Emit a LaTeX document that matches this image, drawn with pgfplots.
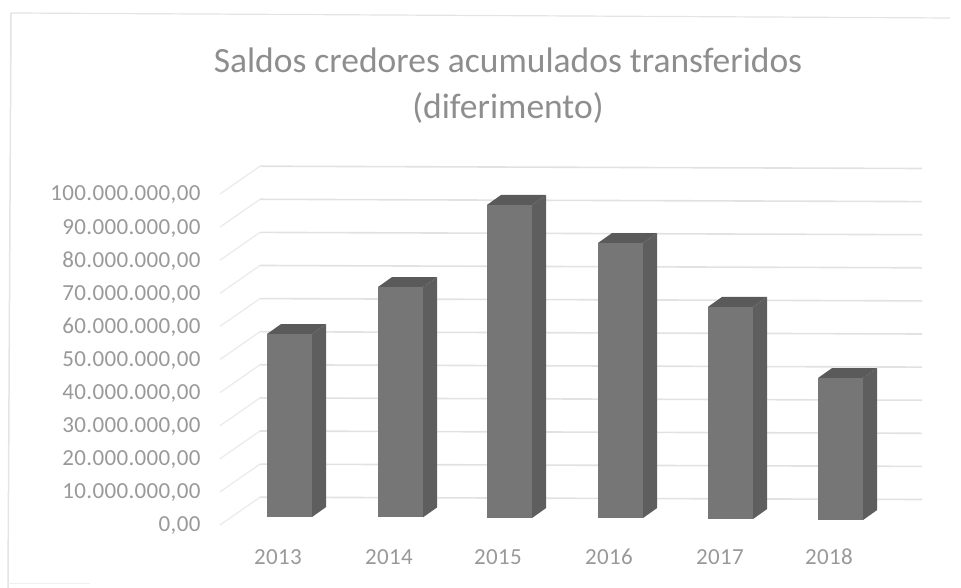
\documentclass[border=0pt]{standalone}
\usepackage{fontspec}
\setmainfont{Carlito}
\usepackage{pgfplots}
\pgfplotsset{compat=1.18}
\definecolor{txt}{HTML}{8E8E8E}
\definecolor{ticktxt}{HTML}{999999}
\definecolor{gridc}{HTML}{E2E2E2}
\definecolor{gridf}{HTML}{EBEBEB}
\definecolor{frontc}{HTML}{767676}
\definecolor{sidec}{HTML}{5E5E5E}
\definecolor{topc}{HTML}{5A5A5A}
\definecolor{framec}{HTML}{E4E4E4}
\newfontfamily\tickfont[LetterSpace=1.5]{Carlito}
\begin{document}
\begin{tikzpicture}[x=1pt,y=1pt]
\path[use as bounding box] (0,0) rectangle (961,588);
\draw[framec,line width=1.5pt] (11,575) -- (8,0);
\draw[framec,line width=1.2pt] (11,575) -- (950,570);
\draw[framec!60,line width=1pt] (8,4) -- (90,4);
\node[text=txt,font=\fontsize{35.5}{46}\selectfont,align=center] at (508,502) {Saldos credores acumulados transferidos\\(diferimento)};
\begin{axis}[
  at={(220pt,63pt)},anchor=origin,
  scale only axis,width=662pt,height=331pt,
  xmin=220,xmax=882,ymin=0,ymax=100,
  clip=false,
  axis line style={draw=none},
  major tick length=0pt,
  xtick={278,389,498,609,720,829},
  xticklabels={2013,2014,2015,2016,2017,2018},
  ytick={0,10,...,100},
  yticklabels={{0,00},{10.000.000,00},{20.000.000,00},{30.000.000,00},{40.000.000,00},{50.000.000,00},{60.000.000,00},{70.000.000,00},{80.000.000,00},{90.000.000,00},{100.000.000,00}},
  tick label style={text=ticktxt,font=\tickfont\fontsize{23}{23}\selectfont},
  /pgf/number format/assume math mode=true,
  yticklabel style={xshift=-16pt,yshift=-1pt},
  xticklabel style={yshift=-21pt,text height=15pt,text depth=0pt},
]
% grid: front edge, back wall
\addplot[gridf,line width=1.3pt] coordinates {(220,0) (260,8.4)};
\addplot[gridf,line width=1.3pt] coordinates {(220,10) (260,18.4)};
\addplot[gridf,line width=1.3pt] coordinates {(220,20) (260,28.4)};
\addplot[gridf,line width=1.3pt] coordinates {(220,30) (260,38.4)};
\addplot[gridf,line width=1.3pt] coordinates {(220,40) (260,48.4)};
\addplot[gridf,line width=1.3pt] coordinates {(220,50) (260,58.4)};
\addplot[gridf,line width=1.3pt] coordinates {(220,60) (260,68.4)};
\addplot[gridf,line width=1.3pt] coordinates {(220,70) (260,78.4)};
\addplot[gridf,line width=1.3pt] coordinates {(220,80) (260,88.4)};
\addplot[gridf,line width=1.3pt] coordinates {(220,90) (260,98.4)};
\addplot[gridf,line width=1.3pt] coordinates {(220,100) (260,108.4)};
\addplot[gridc,line width=1.6pt] coordinates {(260,8.4) (922,7.7)};
\addplot[gridc,line width=1.6pt] coordinates {(260,18.4) (922,17.7)};
\addplot[gridc,line width=1.6pt] coordinates {(260,28.4) (922,27.7)};
\addplot[gridc,line width=1.6pt] coordinates {(260,38.4) (922,37.7)};
\addplot[gridc,line width=1.6pt] coordinates {(260,48.4) (922,47.7)};
\addplot[gridc,line width=1.6pt] coordinates {(260,58.4) (922,57.7)};
\addplot[gridc,line width=1.6pt] coordinates {(260,68.4) (922,67.7)};
\addplot[gridc,line width=1.6pt] coordinates {(260,78.4) (922,77.7)};
\addplot[gridc,line width=1.6pt] coordinates {(260,88.4) (922,87.7)};
\addplot[gridc,line width=1.6pt] coordinates {(260,98.4) (922,97.7)};
\addplot[gridc,line width=1.6pt] coordinates {(260,108.4) (922,107.7)};
% side faces
\addplot[fill=sidec,draw=none] coordinates {(312,2.4) (326,5.4) (326,60.7) (312,57.7)} --cycle;
\addplot[fill=sidec,draw=none] coordinates {(423,2.3) (437,5.3) (437,74.9) (423,71.9)} --cycle;
\addplot[fill=sidec,draw=none] coordinates {(532,2.1) (546,5.1) (546,99.7) (532,96.7)} --cycle;
\addplot[fill=sidec,draw=none] coordinates {(643,2.1) (657,5.1) (657,88.2) (643,85.2)} --cycle;
\addplot[fill=sidec,draw=none] coordinates {(753,1.8) (767,4.8) (767,68.9) (753,65.9)} --cycle;
\addplot[fill=sidec,draw=none] coordinates {(863,1.5) (877,4.5) (877,47.4) (863,44.4)} --cycle;
% top faces
\addplot[fill=topc,draw=none] coordinates {(267,57.7) (281,60.7) (326,60.7) (312,57.7)} --cycle;
\addplot[fill=topc,draw=none] coordinates {(378,71.9) (392,74.9) (437,74.9) (423,71.9)} --cycle;
\addplot[fill=topc,draw=none] coordinates {(487,96.7) (501,99.7) (546,99.7) (532,96.7)} --cycle;
\addplot[fill=topc,draw=none] coordinates {(598,85.2) (612,88.2) (657,88.2) (643,85.2)} --cycle;
\addplot[fill=topc,draw=none] coordinates {(708,65.9) (722,68.9) (767,68.9) (753,65.9)} --cycle;
\addplot[fill=topc,draw=none] coordinates {(818,44.4) (832,47.4) (877,47.4) (863,44.4)} --cycle;
% front faces (values in millions)
\addplot[ybar,bar width=45pt,fill=frontc,draw=none,yshift=8pt] coordinates {(289.5,55.3)};
\addplot[ybar,bar width=45pt,fill=frontc,draw=none,yshift=7.6pt] coordinates {(400.5,69.6)};
\addplot[ybar,bar width=45pt,fill=frontc,draw=none,yshift=7pt] coordinates {(509.5,94.6)};
\addplot[ybar,bar width=45pt,fill=frontc,draw=none,yshift=7pt] coordinates {(620.5,83.1)};
\addplot[ybar,bar width=45pt,fill=frontc,draw=none,yshift=6pt] coordinates {(730.5,64.1)};
\addplot[ybar,bar width=45pt,fill=frontc,draw=none,yshift=5pt] coordinates {(840.5,42.9)};
\end{axis}
\end{tikzpicture}
\end{document}
